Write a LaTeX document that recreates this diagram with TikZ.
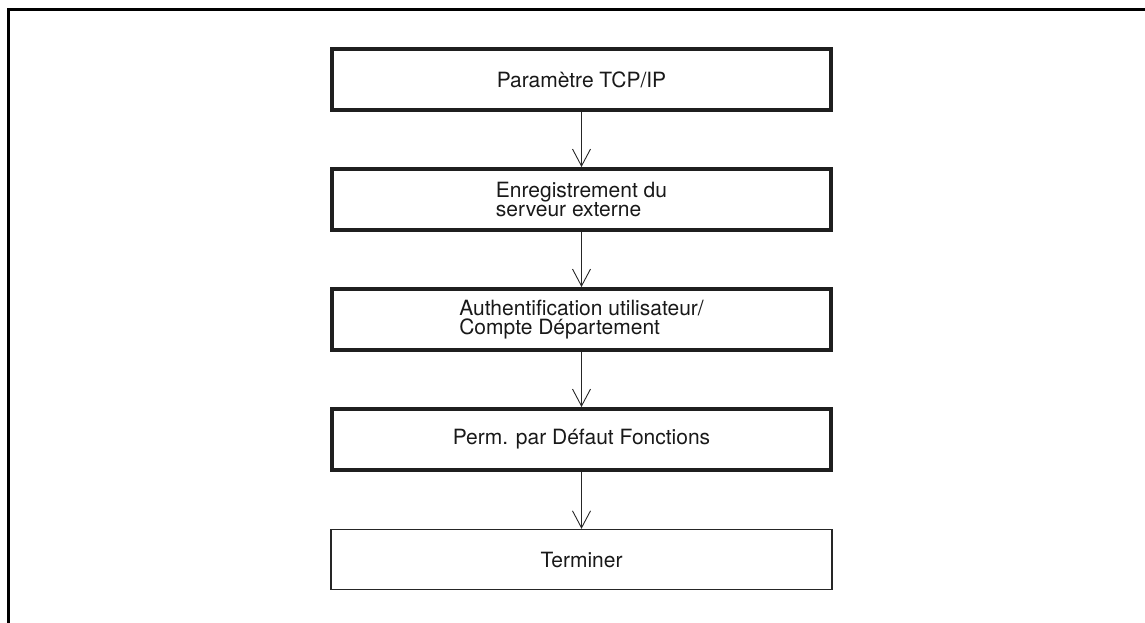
\documentclass[tikz,border=0pt]{standalone}
\usepackage{fontspec}
\setmainfont{TeX Gyre Heros}
\usetikzlibrary{arrows.meta}
\begin{document}
\begin{tikzpicture}[x=1pt,y=-1pt,
  stepbox/.style={draw=black!88,line width=4pt,minimum width=499pt,minimum height=61pt,inner sep=0pt,
    font=\fontsize{21}{19}\selectfont,align=left,text=black!90},
  endbox/.style={draw=black!85,line width=1.4pt,minimum width=501pt,minimum height=60pt,inner sep=0pt,
    font=\fontsize{21}{19}\selectfont,align=left,text=black!90},
  flow/.style={line width=0.9pt,draw=black!85,-{Straight Barb[length=17pt,width=18pt,line width=0.9pt]}},
  frame/.style={line width=2.7pt}]
\useasboundingbox (0,0) rectangle (1145,623);
\draw[frame] (8.4,623) -- (8.4,9.3) -- (1145,9.3);
\node[stepbox] (b1) at (581.5,79.5) {Paramètre TCP/IP};
\node[stepbox,font=\fontsize{21}{14.7}\selectfont] (b2) at (581.5,199.5) {Enregistrement du\\serveur externe};
\node[stepbox] (b3) at (581.5,319.5) {Authentification utilisateur/\\Compte Département};
\node[stepbox] (b4) at (581.5,439.5) {Perm. par Défaut Fonctions};
\node[endbox] (b5) at (581.5,559.5) {Terminer};
\draw[flow] (b1) -- (b2);
\draw[flow] (b2) -- (b3);
\draw[flow] (b3) -- (b4);
\draw[flow] (b4) -- (b5);
\end{tikzpicture}
\end{document}
